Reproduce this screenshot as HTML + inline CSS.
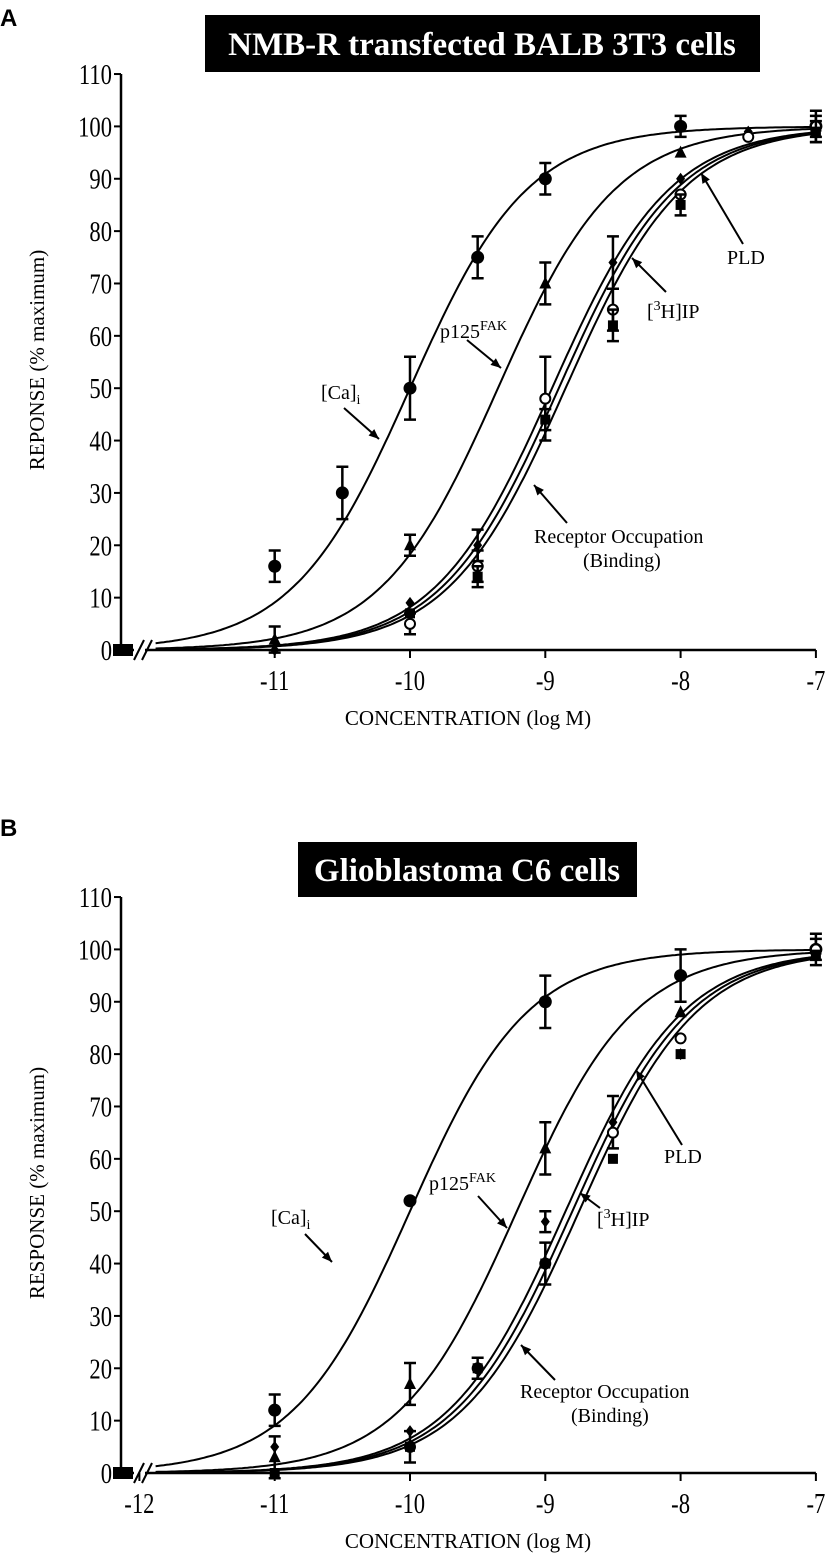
<!DOCTYPE html>
<html><head><meta charset="utf-8"><style>
body{margin:0;background:#fff;}
svg{display:block;font-family:"Liberation Serif",serif;}
</style></head><body>
<svg id="chart" width="827" height="1554" viewBox="0 0 827 1554" xmlns="http://www.w3.org/2000/svg">
<text x="0" y="26" font-family="Liberation Sans" font-weight="bold" font-size="24">A</text>
<rect x="205" y="15" width="555" height="57" fill="#000"/>
<text x="482" y="55" text-anchor="middle" fill="#fff" font-weight="bold" font-size="33">NMB-R transfected BALB 3T3 cells</text>
<text x="0" y="836" font-family="Liberation Sans" font-weight="bold" font-size="24">B</text>
<rect x="298" y="842" width="339" height="55" fill="#000"/>
<text x="467" y="881" text-anchor="middle" fill="#fff" font-weight="bold" font-size="33">Glioblastoma C6 cells</text>
</svg>
<script>
// Panel A data
const aCaX=[-11,-10.5,-10,-9.5,-9,-8,-7], aCaY=[16,30,50,75,90,100,100], aCaE=[3,5,6,4,3,2,2];
const aFakX=[-11,-10,-9,-8,-7], aFakY=[2,20,70,95,100], aFakE=[2.5,2,4,0,0];
const aPldX=[-11,-10,-9.5,-9,-8.5,-8,-7.5,-7], aPldY=[0,9,20,48,74,90,99,100], aPldE=[0,0,3,0,5,0,0,0];
const aIpX=[-10,-9.5,-9,-8.5,-8,-7.5,-7], aIpY=[5,16,48,65,87,98,100], aIpE=[2,3,8,4,0,0,3];
const aBindX=[-10,-9.5,-9,-8.5,-8,-7], aBindY=[7,14,44,62,85,99], aBindE=[0,2,2,3,2,2];
const aEC50=[-10.0,-9.35,-8.95,-8.9,-8.85];
// Panel B data
const bCaX=[-11,-10,-9,-8,-7], bCaY=[12,52,90,95,100], bCaE=[3,0,5,5,2];
const bFakX=[-11,-10,-9,-8,-7], bFakY=[3,17,62,88,100], bFakE=[4,4,5,0,0];
const bPldX=[-11,-10,-9,-8.5,-8,-7], bPldY=[5,8,48,67,80,100], bPldE=[0,0,2,5,0,0];
const bIpX=[-10,-9.5,-9,-8.5,-8,-7], bIpY=[5,20,40,65,83,100], bIpE=[3,2,4,0,0,3];
const bBindX=[-11,-10,-9.5,-9,-8.5,-8,-7], bBindY=[0,5,20,40,60,80,99], bBindE=[0,0,0,0,0,0,0];
const bEC50=[-10.0,-9.21,-8.85,-8.8,-8.75];
const yTicks=[0,10,20,30,40,50,60,70,80,90,100,110];
const xTicks=[-11,-10,-9,-8,-7];

const NS='http://www.w3.org/2000/svg';
const svg=document.getElementById('chart');
function mk(tag,attrs,parent){const e=document.createElementNS(NS,tag);for(const k in attrs)e.setAttribute(k,attrs[k]);(parent||svg).appendChild(e);return e;}
function arrow(g,x1,y1,x2,y2){
  const l=mk('line',{x1:x1,y1:y1,x2:x2,y2:y2,stroke:'#000','stroke-width':2},g);
  
  
  const a=Math.atan2(y2-y1,x2-x1),s=11,w=0.4;
  const p=mk('polygon',{points:`${x2},${y2} ${x2-s*Math.cos(a-w)},${y2-s*Math.sin(a-w)} ${x2-s*Math.cos(a+w)},${y2-s*Math.sin(a+w)}`,fill:'#000'},g);
  
  
}
function label(g,x,y,txt,sub,sup,name){
  const t=mk('text',{x:x,y:y,'font-size':20},g);
  
  
  t.appendChild(document.createTextNode(txt));
  if(sub){const s=mk('tspan',{dy:5,'font-size':14},t);s.textContent=sub;}
  if(sup){const s=mk('tspan',{dy:-8,'font-size':14},t);s.textContent=sup;}
  return t;
}
function panel(P){
  const g=mk('g',{});
  
  
  const X=v=>410+(v+10)*135.3, Y=v=>P.y0-v*5.236;
  const ya=mk('line',{x1:121,y1:Y(110),x2:121,y2:Y(0),stroke:'#000','stroke-width':2.5},g);
  
  
  yTicks.forEach(v=>{
    const tk=mk('line',{x1:114,y1:Y(v),x2:121,y2:Y(v),stroke:'#000','stroke-width':2},g);
    
    
    const t=mk('text',{x:112/0.78,y:Y(v)+10,'text-anchor':'end','font-size':29,transform:'scale(0.78,1)'},g);
    
    
    t.textContent=v;
  });
  const xa=mk('line',{x1:145,y1:Y(0),x2:X(-7),y2:Y(0),stroke:'#000','stroke-width':2.5},g);
  
  
  const xb=mk('line',{x1:121,y1:Y(0),x2:134,y2:Y(0),stroke:'#000','stroke-width':2.5},g);
  
  
  [[134,142],[142,150]].forEach(b=>{
    const bl=mk('line',{x1:b[0],y1:Y(0)+10,x2:b[1]+2,y2:Y(0)-10,stroke:'#000','stroke-width':2},g);
    
    
  });
  P.xt.forEach(v=>{
    const tk=mk('line',{x1:X(v),y1:Y(0),x2:X(v),y2:Y(0)+8,stroke:'#000','stroke-width':2},g);
    
    
    const t=mk('text',{x:X(v)/0.78,y:Y(0)+40,'text-anchor':'middle','font-size':29,transform:'scale(0.78,1)'},g);
    
    
    t.textContent=v;
  });
  const yt=mk('text',{x:0,y:0,'text-anchor':'middle','font-size':21,transform:`translate(44,${P.y0-290}) rotate(-90)`},g);
  
  
  yt.textContent=P.ytitle;
  const xt=mk('text',{x:468,y:P.y0+75,'text-anchor':'middle','font-size':21},g);
  
  
  xt.textContent='CONCENTRATION (log M)';
  P.ec.forEach((ec,i)=>{
    let d='';
    for(let v=-11.88;v<=-7.0001;v+=0.02){const y=100/(1+Math.pow(10,ec-v));d+=(d?'L':'M')+X(v).toFixed(1)+','+Y(y).toFixed(1);}
    const c=mk('path',{d:d,fill:'none',stroke:'#000','stroke-width':2},g);
    
    
  });
  P.series.forEach((s,i)=>{
    const kind=P.markers[i];
    s[0].forEach((xv,j)=>{
      const cx=X(xv),cy=Y(s[1][j]),e=s[2][j];
      if(e>0){
        const eb=mk('path',{d:`M${cx},${Y(s[1][j]-e)}L${cx},${Y(s[1][j]+e)}M${cx-6},${Y(s[1][j]+e)}L${cx+6},${Y(s[1][j]+e)}M${cx-6},${Y(s[1][j]-e)}L${cx+6},${Y(s[1][j]-e)}`,stroke:'#000','stroke-width':2.5,fill:'none'},g);
        
        
      }
      let m;
      if(kind==='circle')m=mk('circle',{cx:cx,cy:cy,r:6.5,fill:'#000'},g);
      else if(kind==='open')m=mk('circle',{cx:cx,cy:cy,r:5,fill:'#fff',stroke:'#000','stroke-width':2},g);
      else if(kind==='tri')m=mk('polygon',{points:`${cx},${cy-7} ${cx-6},${cy+5} ${cx+6},${cy+5}`,fill:'#000'},g);
      else if(kind==='dia')m=mk('polygon',{points:`${cx},${cy-6} ${cx+4.5},${cy} ${cx},${cy+6} ${cx-4.5},${cy}`,fill:'#000'},g);
      else m=mk('rect',{x:cx-5,y:cy-5,width:10,height:10,fill:'#000'},g);
      
      
    });
  });
  [118,128].forEach(px=>{
    const z=mk('rect',{x:px-5,y:Y(0)-6,width:10,height:12,fill:'#000'},g);
    
    
  });
  P.ann(g);
}
panel({name:'panel-a',y0:650,ytitle:'REPONSE (% maximum)',xt:xTicks,ec:aEC50,
  names:['cai','p125fak','pld','3h-ip','binding'],markers:['circle','tri','dia','open','sq'],
  series:[[aCaX,aCaY,aCaE],[aFakX,aFakY,aFakE],[aPldX,aPldY,aPldE],[aIpX,aIpY,aIpE],[aBindX,aBindY,aBindE]],
  ann:g=>{
    label(g,321,399,'[Ca]','i',null,'label-cai');arrow(g,344,408,379,439);
    label(g,440,338,'p125',null,'FAK','label-p125fak');arrow(g,467,340,501,368);
    label(g,727,264,'PLD',null,null,'label-pld');arrow(g,743,244,701,173);
    label(g,647,318,'[',null,null,'label-3h-ip').innerHTML='[<tspan dy="-8" font-size="14">3</tspan><tspan dy="8">H]IP</tspan>';arrow(g,666,292,632,258);
    label(g,534,543,'Receptor Occupation',null,null,'label-binding');label(g,583,567,'(Binding)',null,null,'label-binding-2');arrow(g,567,523,534,485);
  }});
panel({name:'panel-b',y0:1473,ytitle:'RESPONSE (% maximum)',xt:[-12].concat(xTicks),ec:bEC50,
  names:['cai','p125fak','pld','3h-ip','binding'],markers:['circle','tri','dia','open','sq'],
  series:[[bCaX,bCaY,bCaE],[bFakX,bFakY,bFakE],[bPldX,bPldY,bPldE],[bIpX,bIpY,bIpE],[bBindX,bBindY,bBindE]],
  ann:g=>{
    label(g,271,1224,'[Ca]','i',null,'label-cai');arrow(g,305,1234,332,1262);
    label(g,429,1190,'p125',null,'FAK','label-p125fak');arrow(g,478,1196,507,1228);
    label(g,664,1163,'PLD',null,null,'label-pld');arrow(g,682,1145,636,1070);
    label(g,597,1226,'[',null,null,'label-3h-ip').innerHTML='[<tspan dy="-8" font-size="14">3</tspan><tspan dy="8">H]IP</tspan>';arrow(g,600,1208,580,1193);
    label(g,520,1398,'Receptor Occupation',null,null,'label-binding');label(g,571,1422,'(Binding)',null,null,'label-binding-2');arrow(g,555,1380,521,1345);
  }});
</script>
</body></html>
